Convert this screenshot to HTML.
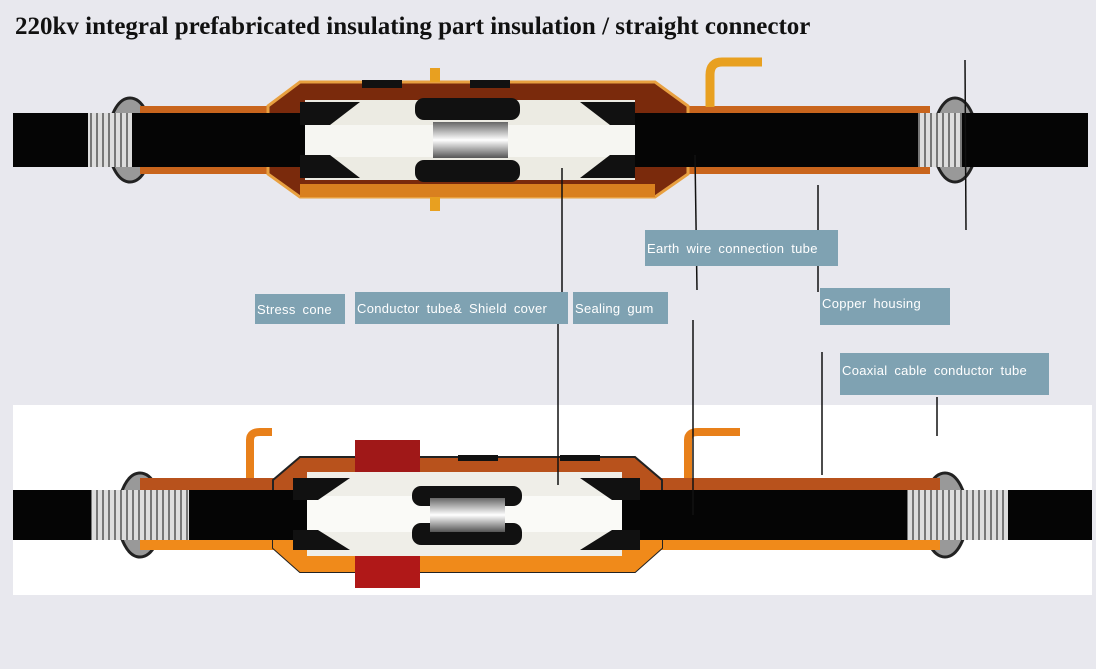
<!DOCTYPE html>
<html><head><style>
body{margin:0;width:1096px;height:669px;background:#e8e8ee;position:relative;overflow:hidden;font-family:"Liberation Sans",sans-serif}
.t{position:absolute;left:15px;top:13px;font:bold 25px "Liberation Serif",serif;color:#111;white-space:nowrap}
.b{position:absolute;background:#7fa2b2;color:#fff;font-size:13px;padding-left:2px;box-sizing:border-box;display:flex;align-items:center;letter-spacing:.3px;word-spacing:3px}
</style></head><body>
<svg width="1096" height="669" style="position:absolute;left:0;top:0">
<defs>
<linearGradient id="sv" x1="0" y1="0" x2="0" y2="1"><stop offset="0" stop-color="#666"/><stop offset=".5" stop-color="#fff"/><stop offset="1" stop-color="#555"/></linearGradient>
<pattern id="cor" width="6" height="10" patternUnits="userSpaceOnUse"><rect width="6" height="10" fill="#ddd"/><rect width="2" height="10" fill="#777"/></pattern>
</defs>
<rect x="13" y="405" width="1079" height="190" fill="#fff"/>
<g>
<ellipse cx="130" cy="140" rx="22" ry="42" fill="#999" stroke="#222" stroke-width="3"/>
<ellipse cx="955" cy="140" rx="22" ry="42" fill="#999" stroke="#222" stroke-width="3"/>
<rect x="140" y="106" width="790" height="68" fill="#c9651d"/>
<rect x="140" y="113" width="790" height="54" fill="#6b1f08"/>
<polygon points="268,106 300,82 655,82 688,106 688,174 655,197 300,197 268,174" fill="#7a2a0c" stroke="#e8a040" stroke-width="3"/>
<polygon points="300,184 655,184 655,197 300,197" fill="#d9801f"/>
<rect x="362" y="80" width="40" height="8" fill="#111"/><rect x="470" y="80" width="40" height="8" fill="#111"/>
<rect x="430" y="68" width="10" height="14" fill="#e8a020"/><rect x="430" y="197" width="10" height="14" fill="#e8a020"/>
<path d="M710,107 V75 Q710,62 722,62 H762" stroke="#e8a020" stroke-width="9" fill="none"/>
<rect x="13" y="113" width="1075" height="54" fill="#050505"/>
<rect x="305" y="100" width="330" height="80" fill="#ecebe3"/>
<rect x="305" y="125" width="330" height="32" fill="#f6f6f2"/>
<path d="M300,102 L360,102 L330,125 L300,125Z M300,178 L360,178 L330,155 L300,155Z M635,102 L580,102 L610,125 L635,125Z M635,178 L580,178 L610,155 L635,155Z" fill="#111"/>
<rect x="415" y="98" width="105" height="22" rx="9" fill="#111"/><rect x="415" y="160" width="105" height="22" rx="9" fill="#111"/>
<rect x="433" y="122" width="75" height="36" fill="url(#sv)"/>
<rect x="88" y="113" width="44" height="54" fill="url(#cor)"/>
<rect x="918" y="113" width="44" height="54" fill="url(#cor)"/>
</g>
<g>
<ellipse cx="140" cy="515" rx="22" ry="42" fill="#999" stroke="#222" stroke-width="3"/>
<ellipse cx="945" cy="515" rx="22" ry="42" fill="#999" stroke="#222" stroke-width="3"/>
<rect x="140" y="478" width="800" height="72" fill="#f08a1a"/>
<rect x="140" y="478" width="800" height="12" fill="#b8521c"/>
<polygon points="273,480 300,457 635,457 662,480 662,548 635,572 300,572 273,548" fill="#b8521c" stroke="#222" stroke-width="2"/>
<polygon points="273,520 662,520 662,548 635,572 300,572 273,548" fill="#f08a1a"/>
<path d="M250,478 V440 Q250,432 260,432 H272" stroke="#e8801a" stroke-width="8" fill="none"/>
<path d="M688,478 V440 Q688,432 698,432 H740" stroke="#e8801a" stroke-width="8" fill="none"/>
<rect x="355" y="440" width="65" height="32" fill="#a01818"/><rect x="355" y="555" width="65" height="33" fill="#b01818"/>
<rect x="458" y="455" width="40" height="6" fill="#111"/><rect x="560" y="455" width="40" height="6" fill="#111"/>
<rect x="13" y="490" width="1079" height="50" fill="#050505"/>
<rect x="307" y="472" width="315" height="84" fill="#efeee8"/>
<rect x="307" y="496" width="315" height="36" fill="#fafaf7"/>
<path d="M293,478 L350,478 L318,500 L293,500Z M293,550 L350,550 L318,530 L293,530Z M640,478 L580,478 L612,500 L640,500Z M640,550 L580,550 L612,530 L640,530Z" fill="#111"/>
<rect x="412" y="486" width="110" height="20" rx="9" fill="#111"/><rect x="412" y="523" width="110" height="22" rx="9" fill="#111"/>
<rect x="430" y="498" width="75" height="34" fill="url(#sv)"/>
<rect x="91" y="490" width="98" height="50" fill="url(#cor)"/>
<rect x="907" y="490" width="101" height="50" fill="url(#cor)"/>
</g>
<g stroke="#111" stroke-width="1.5">
<line x1="965" y1="60" x2="966" y2="230"/>
<line x1="562" y1="168" x2="562" y2="295"/>
<line x1="558" y1="320" x2="558" y2="485"/>
<line x1="695" y1="155" x2="697" y2="290"/>
<line x1="693" y1="320" x2="693" y2="515"/>
<line x1="818" y1="185" x2="818" y2="292"/>
<line x1="822" y1="352" x2="822" y2="475"/>
<line x1="937" y1="397" x2="937" y2="436"/>
</g>
</svg>
<div class="t">220kv integral prefabricated insulating part insulation / straight connector</div>
<div class="b" style="left:645px;top:230px;width:193px;height:36px">Earth wire connection tube</div>
<div class="b" style="left:255px;top:294px;width:90px;height:30px">Stress cone</div>
<div class="b" style="left:355px;top:292px;width:213px;height:32px">Conductor tube&amp; Shield cover</div>
<div class="b" style="left:573px;top:292px;width:95px;height:32px">Sealing gum</div>
<div class="b" style="left:820px;top:288px;width:130px;height:37px;align-items:flex-start;padding-top:8px">Copper housing</div>
<div class="b" style="left:840px;top:353px;width:209px;height:42px;align-items:flex-start;padding-top:10px">Coaxial cable conductor tube</div>
</body></html>
